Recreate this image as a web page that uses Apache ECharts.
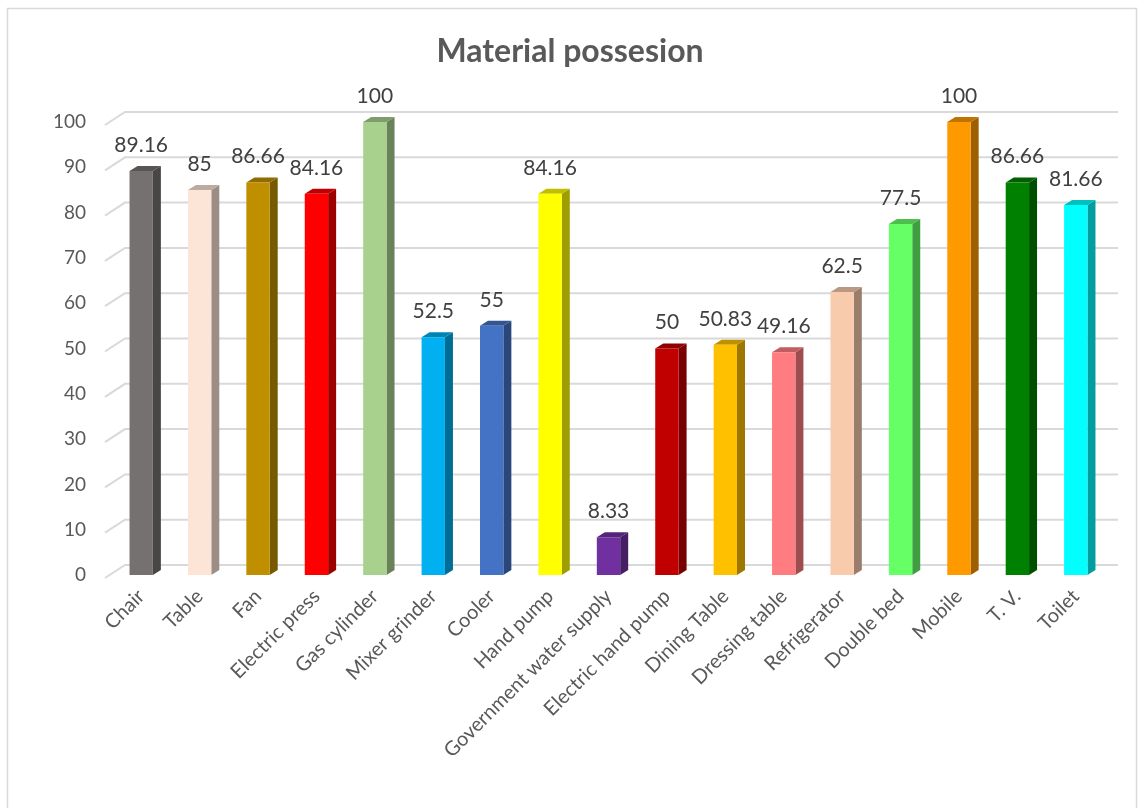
<!DOCTYPE html>
<html>
<head>
<meta charset="utf-8">
<script src="https://cdn.jsdelivr.net/npm/echarts@6/dist/echarts.min.js"></script>
<style>
  html, body { margin: 0; padding: 0; background: #ffffff; }
  #chart { width: 1140px; height: 808px; }
</style>
</head>
<body>
<div id="chart"></div>
<script>
// Household items and the share of households owning each (%)
const categories = [
  'Chair', 'Table', 'Fan', 'Electric press', 'Gas cylinder', 'Mixer grinder',
  'Cooler', 'Hand pump', 'Government water supply', 'Electric hand pump',
  'Dining Table', 'Dressing table', 'Refrigerator', 'Double bed', 'Mobile',
  'T. V.', 'Toilet'
];
const values = [
  89.16, 85, 86.66, 84.16, 100, 52.5, 55, 84.16, 8.33, 50,
  50.83, 49.16, 62.5, 77.5, 100, 86.66, 81.66
];
const barColors = [
  '#767171', '#FCE4D6', '#BF8F00', '#FF0000', '#A9D18E', '#00B0F0',
  '#4472C4', '#FFFF00', '#7030A0', '#C00000', '#FFC000', '#FF7C80',
  '#F8CBAD', '#66FF66', '#FF9900', '#008000', '#00FFFF'
];
const yTicks = [0, 10, 20, 30, 40, 50, 60, 70, 80, 90, 100];

const FONT = 'Lato, "Noto Sans", sans-serif';

// shade a hex colour by a factor (<1 darkens)
function shade(hex, f) {
  const n = parseInt(hex.slice(1), 16);
  const r = Math.round(((n >> 16) & 255) * f);
  const g = Math.round(((n >> 8) & 255) * f);
  const b = Math.round((n & 255) * f);
  return 'rgb(' + r + ',' + g + ',' + b + ')';
}

// depth of each 3D column and of the back wall
const DEPTH_X = 8, DEPTH_Y = -5;
const WALL_FRONT = [-7, 3];
const WALL_BACK = [13, -10];

const chart = echarts.init(document.getElementById('chart'), null, { renderer: 'canvas' });

chart.setOption({
  backgroundColor: '#ffffff',
  animation: false,
  title: {
    text: 'Material possesion',
    left: 'center',
    top: 31,
    textStyle: { fontFamily: FONT, fontSize: 32, fontWeight: 'bold', color: '#595959' }
  },
  graphic: [{
    type: 'rect',
    shape: { x: 7.5, y: 8.5, width: 1129, height: 812 },
    style: { fill: 'none', stroke: '#d9d9d9', lineWidth: 1.5 },
    silent: true, z: -10
  }],
  grid: { left: 112, right: 35, top: 122, bottom: 233, containLabel: false },
  xAxis: {
    type: 'category',
    data: categories,
    boundaryGap: true,
    axisLine: { show: false },
    axisTick: { show: false },
    axisLabel: {
      rotate: 45, interval: 0, margin: 18,
      fontFamily: FONT, fontSize: 20, color: '#595959'
    }
  },
  yAxis: {
    type: 'value',
    min: 0, max: 100, interval: 10,
    axisLine: { show: false },
    axisTick: { show: false },
    splitLine: { show: false },
    axisLabel: { margin: 26, fontFamily: FONT, fontSize: 19, color: '#595959' }
  },
  series: [
    {
      // back wall gridlines with their floor-perspective lead-in
      type: 'custom',
      silent: true,
      z: 1,
      data: yTicks.map(v => [0, v]),
      encode: { x: 0, y: 1 },
      renderItem: function (params, api) {
        const cs = params.coordSys;
        const y = api.coord([0, api.value(1)])[1];
        const x0 = cs.x;
        const x1 = cs.x + cs.width;
        return {
          type: 'polyline',
          shape: {
            points: [
              [x0 + WALL_FRONT[0], y + WALL_FRONT[1]],
              [x0 + WALL_BACK[0], y + WALL_BACK[1]],
              [x1 + WALL_BACK[0], y + WALL_BACK[1]]
            ]
          },
          style: { stroke: '#d9d9d9', lineWidth: 2, fill: null }
        };
      }
    },
    {
      // 3D columns with value labels
      type: 'custom',
      z: 5,
      data: values.map((v, i) => [i, v]),
      encode: { x: 0, y: 1 },
      renderItem: function (params, api) {
        const i = api.value(0);
        const v = api.value(1);
        const top = api.coord([i, v]);
        const base = api.coord([i, 0]);
        const w = api.size([1, 0])[0] * 0.4;
        const xl = top[0] - w / 2, xr = top[0] + w / 2;
        const yt = top[1], yb = base[1];
        const c = barColors[i];
        return {
          type: 'group',
          children: [
            {
              type: 'polygon',
              shape: { points: [[xr, yt], [xr + DEPTH_X, yt + DEPTH_Y], [xr + DEPTH_X, yb + DEPTH_Y], [xr, yb]] },
              style: { fill: shade(c, 0.62) }
            },
            {
              type: 'polygon',
              shape: { points: [[xl, yt], [xl + DEPTH_X, yt + DEPTH_Y], [xr + DEPTH_X, yt + DEPTH_Y], [xr, yt]] },
              style: { fill: shade(c, 0.75) }
            },
            {
              type: 'rect',
              shape: { x: xl, y: yt, width: w, height: yb - yt },
              style: { fill: c }
            },
            {
              type: 'text',
              x: top[0], y: yt - 26,
              style: {
                text: String(v),
                fontFamily: FONT, fontSize: 21, fill: '#404040',
                align: 'center', verticalAlign: 'middle'
              }
            }
          ]
        };
      }
    }
  ]
});
</script>
</body>
</html>
